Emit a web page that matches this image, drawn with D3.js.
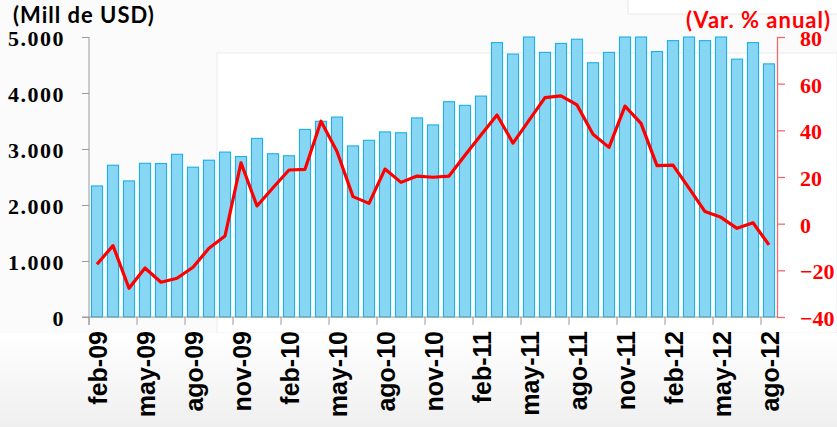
<!DOCTYPE html>
<html>
<head>
<meta charset="utf-8">
<script src="https://cdn.jsdelivr.net/npm/d3@7"></script>
<style>
	html, body { margin: 0; padding: 0; background: #fff; }
	svg { display: block; }
</style>
</head>
<body>
<div id="chart"></div>
<script>
const months = ["ene", "feb", "mar", "abr", "may", "jun", "jul", "ago", "sep", "oct", "nov", "dic"];

// feb-09 .. ago-12
const categories = [];
for (let y = 9; y <= 12; y++) {
	for (let m = 0; m < 12; m++) {
		if (y === 9 && m < 1) continue;
		if (y === 12 && m > 7) continue;
		categories.push(months[m] + "-" + String(y).padStart(2, "0"));
	}
}

// Exports, millions of USD (bars)
const exportsValues = [
	2340, 2710, 2430, 2745, 2740, 2905, 2675, 2800, 2945, 2865, 3190,
	2915, 2880, 3350, 3495, 3570, 3055, 3155, 3305, 3290, 3555, 3430,
	3845, 3780, 3945, 4900, 4695, 5000, 4725, 4885, 4960, 4540, 4725,
	5000, 5000, 4740, 4935, 5000, 4935, 5000, 4605, 4900, 4520
];

// Annual % change (line)
const changeValues = [
	-17.4, -9.4, -27.7, -19.0, -25.1, -23.4, -18.7, -10.5, -5.3, 26.1, 7.6,
	15.4, 23.0, 23.3, 43.9, 30.9, 11.6, 8.7, 23.4, 17.7, 20.4, 19.9,
	20.4, 29.3, 38.0, 46.6, 34.5, 44.3, 54.0, 54.8, 50.9, 38.3, 32.7,
	50.4, 43.0, 24.9, 25.1, 15.2, 5.2, 2.7, -2.0, 0.4, -9.1
];

const leftTicks = [0, 1000, 2000, 3000, 4000, 5000];
const rightTicks = [-40, -20, 0, 20, 40, 60, 80];
const xTickLabels = categories.filter((d, i) => i % 3 === 0);

const W = 837, H = 427;
const M = { top: 37, right: 60, bottom: 110, left: 89 };
const fmtThousands = d3.formatLocale({ decimal: ",", thousands: ".", grouping: [3] }).format(",");

const svg = d3.select("#chart").append("svg")
	.attr("width", W)
	.attr("height", H);

const defs = svg.append("defs");
const grad = defs.append("linearGradient")
	.attr("id", "bg-bottom")
	.attr("x1", 0).attr("y1", 0).attr("x2", 0).attr("y2", 1);
grad.append("stop").attr("offset", "0%").attr("stop-color", "#ffffff");
grad.append("stop").attr("offset", "100%").attr("stop-color", "#efefef");

// faint background panels
svg.append("rect").attr("x", 0).attr("y", 0).attr("width", W).attr("height", H).attr("fill", "#fbfbfb");
svg.append("rect").attr("x", 217).attr("y", 53).attr("width", W - 217).attr("height", 280)
	.attr("fill", "#ffffff").attr("stroke", "#ececec");
svg.append("rect").attr("x", 628).attr("y", -1).attr("width", 220).attr("height", 15)
	.attr("fill", "#ffffff").attr("stroke", "#e8e8e8");
svg.append("rect").attr("x", 0).attr("y", 333).attr("width", W).attr("height", H - 333)
	.attr("fill", "url(#bg-bottom)");

const x = d3.scaleBand()
	.domain(categories)
	.range([M.left, W - M.right])
	.paddingInner(0.31)
	.paddingOuter(0.155);

const yL = d3.scaleLinear()
	.domain([0, 5000])
	.range([H - M.bottom, M.top])
	.clamp(true);

const yR = d3.scaleLinear()
	.domain([-40, 80])
	.range([H - M.bottom, M.top]);

const step = x.step();

// Bars
svg.append("g")
	.selectAll("rect")
	.data(exportsValues)
	.join("rect")
	.attr("x", (d, i) => x(categories[i]))
	.attr("y", d => yL(d))
	.attr("width", x.bandwidth())
	.attr("height", d => yL(0) - yL(d))
	.attr("fill", "#86d6f4")
	.attr("stroke", "#1ab0ea")
	.attr("stroke-width", 1.1);

// Left axis
const gL = svg.append("g")
	.attr("transform", `translate(${M.left},0)`)
	.call(d3.axisLeft(yL).tickValues(leftTicks).tickSize(7).tickSizeOuter(0).tickPadding(17).tickFormat(fmtThousands));
gL.select(".domain").attr("stroke", "#9a9a9a").attr("d", `M0,${M.top}V${H - M.bottom + 8}`);
gL.selectAll(".tick line").attr("stroke", "#9a9a9a");
gL.selectAll("text")
	.attr("fill", "#000")
	.style("font-family", "'Liberation Serif', serif")
	.style("font-weight", "bold")
	.style("font-size", "22px")
	.style("letter-spacing", "1.5px")
	.attr("dy", "0.38em");

// Bottom axis
const gB = svg.append("g")
	.attr("transform", `translate(0,${H - M.bottom})`)
	.call(d3.axisBottom(x).tickValues(xTickLabels).tickSize(8).tickSizeOuter(0));
gB.select(".domain").attr("stroke", "#9a9a9a").attr("d", `M${M.left - 7},0H${W - M.right}`);
gB.selectAll(".tick line")
	.attr("stroke", "#9a9a9a")
	.attr("x1", -step / 2)
	.attr("x2", -step / 2);
gB.selectAll(".tick text")
	.attr("fill", "#000")
	.attr("text-anchor", "end")
	.attr("transform", `translate(${step / 2 + 2},14) rotate(-90)`)
	.attr("x", 0)
	.attr("y", 0)
	.attr("dy", 0)
	.style("font-family", "'Liberation Sans', Arial, sans-serif")
	.style("font-weight", "bold")
	.style("font-size", "25px");

// Right axis
const gR = svg.append("g")
	.attr("transform", `translate(${W - M.right},0)`)
	.call(d3.axisRight(yR).tickValues(rightTicks).tickSize(8).tickSizeOuter(0).tickPadding(15));
gR.select(".domain").attr("stroke", "#f26b6b").attr("stroke-width", 1.3);
gR.selectAll(".tick line").attr("stroke", "#f26b6b").attr("stroke-width", 1.3);
gR.selectAll("text")
	.attr("fill", "#ff0000")
	.style("font-family", "'Liberation Serif', serif")
	.style("font-weight", "bold")
	.style("font-size", "22px")
	.attr("dy", "0.38em");

// Line
const line = d3.line()
	.x((d, i) => x(categories[i]) + x.bandwidth() / 2)
	.y(d => yR(d));

svg.append("path")
	.datum(changeValues)
	.attr("fill", "none")
	.attr("stroke", "#ff0000")
	.attr("stroke-width", 3.2)
	.attr("stroke-linejoin", "round")
	.attr("d", line);

// Titles
svg.append("text")
	.attr("x", 13)
	.attr("y", 23)
	.style("font-family", "Lato, 'Open Sans', sans-serif")
	.style("font-weight", "bold")
	.style("font-size", "22px")
	.style("letter-spacing", "1px")
	.attr("fill", "#000")
	.text("(Mill de USD)");

svg.append("text")
	.attr("x", 831)
	.attr("y", 28)
	.attr("text-anchor", "end")
	.style("font-family", "Lato, 'Open Sans', sans-serif")
	.style("font-weight", "bold")
	.style("font-size", "22px")
	.style("letter-spacing", "1px")
	.attr("fill", "#ff0000")
	.text("(Var. % anual)");
</script>
</body>
</html>
